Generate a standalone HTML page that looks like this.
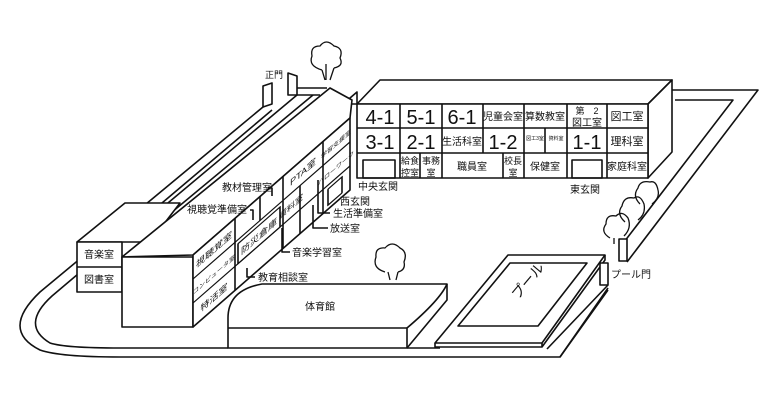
<!DOCTYPE html>
<html><head><meta charset="utf-8"><style>
html,body{margin:0;padding:0;background:#fff;}
svg{display:block;}
text{font-family:"Liberation Sans","Noto Sans CJK JP",sans-serif;fill:#111;}
</style></head><body>
<svg width="768" height="400" viewBox="0 0 768 400" xmlns="http://www.w3.org/2000/svg">
<g fill="none" stroke="#111" stroke-width="1.6" stroke-linejoin="round">
<!-- road loop -->
<path d="M263,107 L40,292 Q0,330 40,350 Q60,357 120,357 L560,357 L608,288"/>
<path d="M272,110 L52,296 Q20,325 50,343 Q65,348 120,348 L228,348"/>
<path d="M407,348 L440,348"/>
<path d="M297,95 L150,218"/>
<path d="M313,95 L160,222"/>
<!-- gate posts 正門 -->
<path d="M263,107 L263,86 L272,83 L272,104 Z" fill="#fff"/>
<path d="M288,95 L288,73 L297,76 L297,95 Z" fill="#fff"/>
<path d="M297,88 L327,88"/>
<path d="M297,95 L320,95"/>
<!-- right fence -->
<path d="M672,90 L758,90 L627,262"/>
<path d="M675,100 L733,100 L621,246"/>
<!-- main building roof & faces -->
<path d="M357,104 L648,104 L672,80 L380,80 Z" fill="#fff"/>
<path d="M648,104 L672,80 L672,152 L648,178 Z" fill="#fff"/>
<rect x="357" y="104" width="291" height="74" fill="#fff"/>
<path d="M343,104 L357,92 L357,104 Z" fill="#fff"/>
<path d="M357,128 L648,128 M357,153 L648,153"/>
<path d="M400,104 V178 M442,104 V178 M483,104 V153 M524,104 V178 M567,104 V178 M607,104 V178 M545,128 V153 M420,153 V178 M503,153 V178"/>
<rect x="363" y="160" width="32" height="18"/>
<rect x="572" y="160" width="30" height="18"/>
<!-- annex -->
<path d="M77,242 L125,203 L180,203 L150,242 Z" fill="#fff"/>
<rect x="77" y="242" width="45" height="50" fill="#fff"/>
<path d="M77,267 L122,267"/>
<!-- wing roof -->
<path d="M122,257 L330,88 L352,100 L350,118 L193,255 Z" fill="#fff"/>
<!-- end block -->
<rect x="122" y="257" width="71" height="70" fill="#fff"/>
<!-- west wing SE face -->
<path d="M193,255 L350,118 L350,190 L193,327 Z" fill="#fff"/>
<g transform="matrix(1,-0.873,0,1,193,255)">
<path d="M0,24 L157,24 M0,48 L157,48"/>
<path d="M42,0 V72 M67,0 V24 M90,0 V72 M130,0 V72 M107,24 V72"/>
<rect x="45" y="28" width="42" height="20"/>
<rect x="135" y="52" width="14" height="16"/>
</g>
<!-- gym -->
<path d="M228,348 L228,318 Q228,290 262,284 L447,284 Q440,300 407,328 L407,348 Z" fill="#fff"/>
<path d="M228,328 L407,328"/>
<path d="M407,348 L447,300 L447,284"/>
<!-- pool -->
<path d="M435,343 L508,255 L605,255 L542,343 Z" fill="#fff"/>
<path d="M458,326 L510,263 L587,263 L538,326 Z"/>
<path d="M435,343 L435,347 L542,347 L542,343 M542,347 L605,260 L605,255"/>
<path d="M547,349 L608,285 M560,357 L608,290"/>
<rect x="600" y="263" width="8" height="22" fill="#fff"/>
<rect x="619" y="239" width="8" height="22" fill="#fff"/>
<!-- leaders -->
<path d="M250,210 H253 V220 M268,188 H272 V196"/>
<path d="M318,180 V213 H330 M313,205 V228 H328 M282,228 V252 H290 M247,268 V277 H255"/>
<!-- trees -->
<g stroke-width="1.3">
<path d="M322,70 Q308,66 312,56 Q310,46 320,46 Q326,38 334,46 Q344,48 340,58 Q344,66 334,68 M322,70 L325,80 M334,68 L330,80 M326,80 V64"/>
<path d="M385,272 Q372,268 376,257 Q375,247 385,248 Q392,240 400,248 Q408,252 404,262 Q406,270 398,272 M388,272 L390,280 M398,272 L396,280"/>
<path d="M610,238 Q600,232 606,224 Q606,214 616,216 Q622,210 628,218 Q632,228 624,236 M614,238 V244"/>
<path d="M625,222 Q616,214 622,206 Q624,196 634,198 Q640,194 644,204 Q646,214 638,220"/>
<path d="M640,204 Q632,196 638,188 Q640,180 650,182 Q656,180 658,190 Q660,198 652,204"/>
</g>
</g>
<!-- main building labels -->
<g font-size="20" text-anchor="middle">
<text x="380" y="124">4-1</text><text x="421" y="124">5-1</text><text x="462" y="124">6-1</text>
<text x="380" y="149">3-1</text><text x="421" y="149">2-1</text><text x="503" y="149">1-2</text><text x="587" y="149">1-1</text>
</g>
<g font-size="10" text-anchor="middle">
<text x="503" y="120">児童会室</text><text x="545" y="120">算数教室</text>
<text x="587" y="114" font-size="9">第　2</text><text x="587" y="126" font-size="10">図工室</text>
<text x="627" y="120" font-size="11">図工室</text>
<text x="462" y="145">生活科室</text><text x="627" y="145" font-size="11">理科室</text>
<text x="535" y="140" font-size="5">図工3室</text><text x="556" y="140" font-size="5">資料室</text>
<text x="410" y="164" font-size="9">給食</text><text x="410" y="176" font-size="9">控室</text>
<text x="431" y="164" font-size="9">事務</text><text x="431" y="176" font-size="9">室</text>
<text x="472" y="170">職員室</text>
<text x="513" y="164" font-size="9">校長</text><text x="513" y="176" font-size="9">室</text>
<text x="545" y="170">保健室</text><text x="627" y="170">家庭科室</text>
<text x="378" y="190">中央玄関</text><text x="585" y="193">東玄関</text>
<text x="99" y="258">音楽室</text><text x="99" y="283">図書室</text>
<text x="320" y="310">体育館</text>
</g>
<g font-size="10">
<text x="265" y="78" font-size="9">正門</text>
<text x="222" y="191">教材管理室</text>
<text x="187" y="213">視聴覚準備室</text>
<text x="340" y="205">西玄関</text>
<text x="333" y="217">生活準備室</text>
<text x="330" y="232">放送室</text>
<text x="292" y="256">音楽学習室</text>
<text x="258" y="281">教育相談室</text>
<text x="611" y="278">プール門</text>
</g>
<text x="518" y="300" font-size="14" transform="rotate(-50 518 300)">プール</text>
<!-- wing labels -->
<g font-size="9" text-anchor="middle" transform="matrix(1,-0.873,0,1,193,255)">
<text x="21" y="16">視聴覚室</text><text x="21" y="40" font-size="6">コンピュータ室</text><text x="21" y="64">特活室</text>
<text x="66" y="42">防災倉庫</text>
<text x="110" y="16">PTA室</text>
<text x="98" y="40" font-size="8">資料室</text>
<text x="143" y="16" font-size="6">学習支援室</text><text x="143" y="40" font-size="6">ハローワーク</text>
</g>
</svg>
</body></html>
